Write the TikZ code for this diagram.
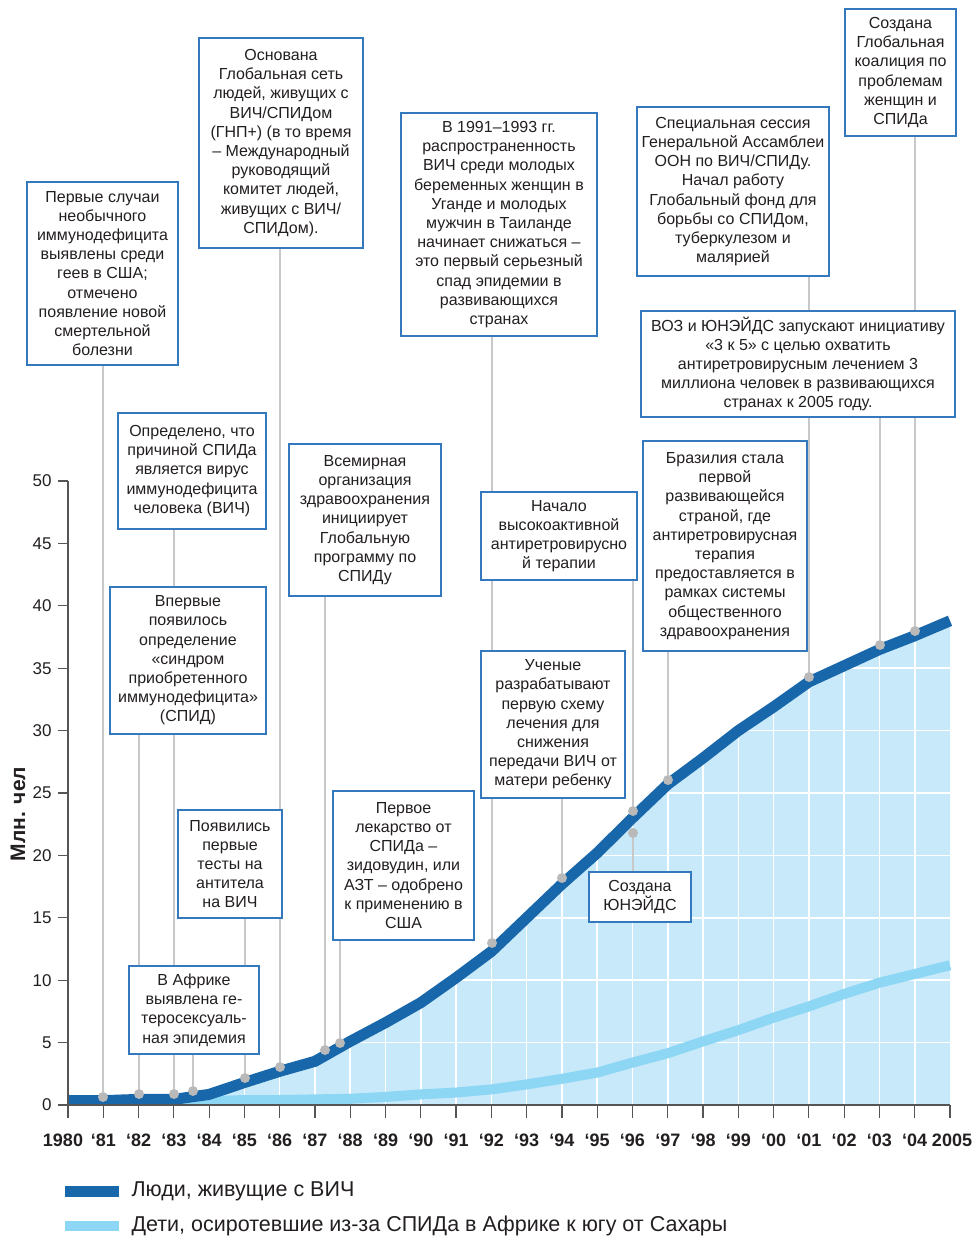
\documentclass[tikz,border=0pt]{standalone}
\usepackage{fontspec}
\setmainfont{Liberation Sans}

\definecolor{hivblue}{RGB}{24,103,170}
\definecolor{orphanblue}{RGB}{141,215,245}
\definecolor{areablue}{RGB}{199,233,249}
\definecolor{boxblue}{RGB}{52,120,190}
\definecolor{dotgray}{RGB}{185,185,185}
\definecolor{leadgray}{RGB}{200,200,200}
\definecolor{axisgray}{RGB}{85,85,85}
\definecolor{inkblack}{RGB}{35,31,32}

\pgfdeclarelayer{chart}
\pgfdeclarelayer{links}
\pgfsetlayers{chart,links,main}

\tikzset{%
  event box/.style={
    draw=boxblue,
    line width=1.2pt,
    fill=white,
    align=center,
    inner sep=0pt,
    text=inkblack,
    font=\fontsize{16}{19.2}\selectfont
  },
  event dot/.style={
    circle,
    fill=dotgray,
    inner sep=0pt,
    minimum size=10pt
  },
  leader/.style={draw=leadgray, line width=1.5pt},
  hiv line/.style={draw=hivblue, line width=11pt, line join=round},
  orphan line/.style={draw=orphanblue, line width=10pt, line join=round},
  grid line/.style={draw=white, line width=1.6pt},
  axis line/.style={draw=axisgray, line width=1.2pt},
  value label/.style={anchor=east, text=inkblack, font=\fontsize{17}{20}\selectfont},
  year label/.style={text=inkblack, font=\fontsize{18}{20}\selectfont\bfseries},
  legend label/.style={anchor=west, text=inkblack, font=\fontsize{21.5}{25}\selectfont},
}

% years after 1980 / millions
\def\hivdata{0/0.35,1/0.35,2/0.45,3/0.45,4/0.85,5/1.8,6/2.7,7/3.5,8/5.1,9/6.6,10/8.2,11/10.2,12/12.3,13/15.0,14/17.7,15/20.2,16/23.0,17/25.7,18/27.8,19/30.0,20/31.9,21/33.9,22/35.2,23/36.5,24/37.6,25/38.8}
\def\orphandata{4/0.3,5/0.4,6/0.4,7/0.45,8/0.5,9/0.65,10/0.85,11/1.0,12/1.25,13/1.65,14/2.1,15/2.6,16/3.4,17/4.15,18/5.1,19/6.0,20/7.0,21/7.9,22/8.9,23/9.8,24/10.5,25/11.2}

\begin{document}
\begin{tikzpicture}[x=1pt, y=-1pt]
\useasboundingbox (0,0) rectangle (973,1236);

% chart area
\begin{scope}[shift={(68,1105)}, x=35.28pt, y=12.48pt]
\begin{pgfonlayer}{chart}
\fill[areablue] (0,0) \foreach \yr/\v in \hivdata {-- (\yr,\v)} -- (25,0) -- cycle;
\begin{scope}
  \clip (0,0) \foreach \yr/\v in \hivdata {-- (\yr,\v)} -- (25,0) -- cycle;
  \foreach \yr in {1,...,24}
    \draw[grid line] (\yr,0) -- (\yr,40);
  \foreach \v in {5,10,...,35}
    \draw[grid line] (0,\v) -- (25,\v);
\end{scope}
\begin{scope}
  \clip (0,0) rectangle (26,51);
  \draw[orphan line] (3,-0.45) \foreach \yr/\v in \orphandata {-- (\yr,\v)};
  \draw[hiv line] (0,0.35) \foreach \yr/\v in \hivdata {-- (\yr,\v)};
\end{scope}
\end{pgfonlayer}

\draw[axis line] (0,50) -- (0,0) -- (25,0);
\foreach \v in {0,5,...,50} {
  \draw[axis line] (0,\v) -- ++(-10pt,0);
  \node[value label, xshift=-13pt] (val-\v) at (0,\v) {\v};
}
\foreach \l/\s [count=\i from 0] in {1980/-5,‘81/0,‘82/0,‘83/0,‘84/0,‘85/0,‘86/0,‘87/0,‘88/0,‘89/0,‘90/0,‘91/0,‘92/0,‘93/0,‘94/0,‘95/0,‘96/0,‘97/0,‘98/0,‘99/0,‘00/0,‘01/0,‘02/0,‘03/0,‘04/0,2005/2} {
  \draw[axis line] (\i,0) -- ++(0,-13pt);
  \node[year label, yshift=-35pt, xshift=\s pt] (year-\i) at (\i,0) {\l};
}
\end{scope}

\node[rotate=90, text=inkblack, font=\fontsize{21}{24}\selectfont\bfseries] (unit) at (18,814) {Млн. чел};

% events
\node[event box, minimum width=151, minimum height=183] (cases) at (102.5,273.5)
  {Первые случаи\\необычного\\иммунодефицита\\выявлены среди\\геев в США;\\отмечено\\появление новой\\смертельной\\болезни};
\node[event box, minimum width=164, minimum height=210] (gnp) at (281,143)
  {Основана\\Глобальная сеть\\людей, живущих с\\ВИЧ/СПИДом\\(ГНП+) (в то время\\– Международный\\руководящий\\комитет людей,\\живущих с ВИЧ/\\СПИДом).};
\node[event box, minimum width=148, minimum height=116] (cause) at (192,471)
  {Определено, что\\причиной СПИДа\\является вирус\\иммунодефицита\\человека (ВИЧ)};
\node[event box, minimum width=156, minimum height=147] (define) at (188,660.5)
  {Впервые\\появилось\\определение\\«синдром\\приобретенного\\иммунодефицита»\\(СПИД)};
\node[event box, minimum width=104, minimum height=108] (tests) at (230,864)
  {Появились\\первые\\тесты на\\антитела\\на ВИЧ};
\node[event box, minimum width=130, minimum height=88] (africa) at (194,1010)
  {В Африке\\выявлена ге-\\теросексуаль-\\ная эпидемия};
\node[event box, minimum width=152, minimum height=152] (who) at (365,520)
  {Всемирная\\организация\\здравоохранения\\инициирует\\Глобальную\\программу по\\СПИДу};
\node[event box, minimum width=141, minimum height=149] (azt) at (403.5,865.5)
  {Первое\\лекарство от\\СПИДа –\\зидовудин, или\\АЗТ – одобрено\\к применению в\\США};
\node[event box, minimum width=196, minimum height=223] (decline) at (499,224.5)
  {В 1991–1993 гг.\\распространенность\\ВИЧ среди молодых\\беременных женщин в\\Уганде и молодых\\мужчин в Таиланде\\начинает снижаться –\\это первый серьезный\\спад эпидемии в\\развивающихся\\странах};
\node[event box, minimum width=156, minimum height=88] (haart) at (559,536)
  {Начало\\высокоактивной\\антиретровирусно\\й терапии};
\node[event box, minimum width=144, minimum height=147] (mtct) at (553,724.5)
  {Ученые\\разрабатывают\\первую схему\\лечения для\\снижения\\передачи ВИЧ от\\матери ребенку};
\node[event box, minimum width=102, minimum height=50] (unaids) at (640,897)
  {Создана\\ЮНЭЙДС};
\node[event box, minimum width=164, minimum height=210] (brazil) at (725,546)
  {Бразилия стала\\первой\\развивающейся\\страной, где\\антиретровирусная\\терапия\\предоставляется в\\рамках системы\\общественного\\здравоохранения};
\node[event box, minimum width=192, minimum height=169] (ungass) at (733,191.5)
  {Специальная сессия\\Генеральной Ассамблеи\\ООН по ВИЧ/СПИДу.\\Начал работу\\Глобальный фонд для\\борьбы со СПИДом,\\туберкулезом и\\малярией};
\node[event box, minimum width=111, minimum height=127] (coalition) at (900.5,72.5)
  {Создана\\Глобальная\\коалиция по\\проблемам\\женщин и\\СПИДа};
\node[event box, minimum width=314, minimum height=106] (threebyfive) at (798,364)
  {ВОЗ и ЮНЭЙДС запускают инициативу\\«3 к 5» с целью охватить\\антиретровирусным лечением 3\\миллиона человек в развивающихся\\странах к 2005 году.};

% points on the curve
\foreach \n/\px/\py in {81/103/1097, 82/139/1094, 83/174/1094, 83b/193/1091, 85/245/1078, 86/280/1067, 87/325/1050, 87b/340/1043, 92/492/943, 94/562/878, 96/633/811, 96b/633/833, 97/668/780, 01/809/677, 03/880/645, 04/915/631}
  \node[event dot] (dot-\n) at (\px,\py) {};

\begin{pgfonlayer}{links}
\foreach \d/\b in {81/cases, 82/define, 83/cause, 83b/africa, 85/tests, 86/gnp, 87/who, 87b/azt, 92/decline, 94/mtct, 96/haart, 97/brazil, 01/ungass, 03/threebyfive, 04/coalition}
  \draw[leader] (dot-\d) -- (dot-\d |- \b.south);
\draw[leader] (dot-96b) -- (dot-96b |- unaids.north);
\end{pgfonlayer}

% legend
\node[legend label] (legend-hiv) at (128,1191) {Люди, живущие с ВИЧ};
\node[legend label] (legend-orphan) at (128,1226) {Дети, осиротевшие из-за СПИДа в Африке к югу от Сахары};
\draw[hiv line] (legend-hiv.west) ++(-9pt,0) -- ++(-54pt,0);
\draw[orphan line] (legend-orphan.west) ++(-9pt,0) -- ++(-54pt,0);

\end{tikzpicture}
\end{document}
